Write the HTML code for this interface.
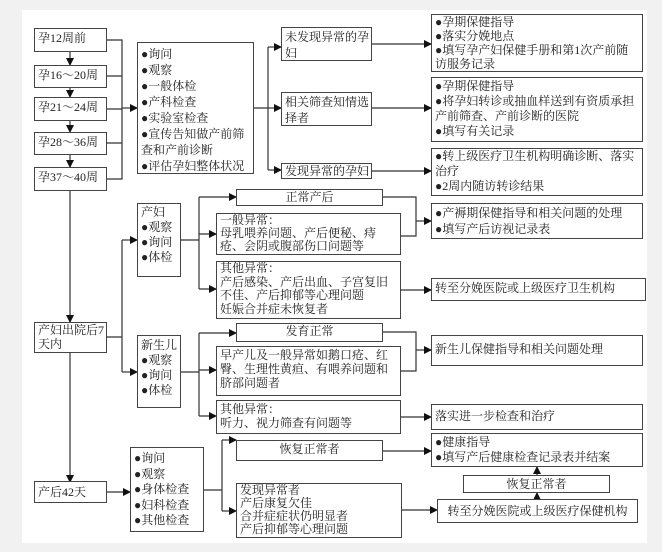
<!DOCTYPE html>
<html><head><meta charset="utf-8"><style>
body{margin:0;width:662px;height:552px;background:#f1f1f1;position:relative;overflow:hidden;font-family:"Liberation Serif","Noto Serif CJK SC",serif;color:#222}
#w{position:absolute;left:22px;top:10px;width:625px;height:533px;background:#fff}
.b{position:absolute;border:1px solid #444;box-sizing:border-box;font-size:12px;line-height:16px;padding:1px 3px;background:#fff;white-space:nowrap;overflow:hidden}
.c{text-align:center}
svg{position:absolute;left:0;top:0}
</style></head><body>
<div id="w"></div>
<svg width="662" height="552">
<defs><marker id="a" markerWidth="8" markerHeight="8" refX="7" refY="4" orient="auto" markerUnits="userSpaceOnUse"><path d="M0,0 L8,4 L0,8z" fill="#111"/></marker></defs>
<g stroke="#333" stroke-width="1.2" fill="none">
<path d="M70,52V65" marker-end="url(#a)"/><path d="M70,88V97" marker-end="url(#a)"/><path d="M70,121V132" marker-end="url(#a)"/><path d="M70,155V167" marker-end="url(#a)"/>
<path d="M107,40H122V179H107M107,76H122M107,143H122M107,109H122"/>
<path d="M122,108H137" marker-end="url(#a)"/>
<path d="M254,108H268M268,47V170"/>
<path d="M268,47H281" marker-end="url(#a)"/><path d="M268,108H281" marker-end="url(#a)"/><path d="M268,170H281" marker-end="url(#a)"/>
<path d="M372,44H431" marker-end="url(#a)"/><path d="M372,108H431" marker-end="url(#a)"/><path d="M372,171H431" marker-end="url(#a)"/>
<path d="M70,191V322" marker-end="url(#a)"/><path d="M70,353V482" marker-end="url(#a)"/>
<path d="M107,337H122M122,240V372"/>
<path d="M122,240H137" marker-end="url(#a)"/><path d="M122,372H137" marker-end="url(#a)"/>
<path d="M181,240H199M199,197V289"/>
<path d="M199,197H236" marker-end="url(#a)"/><path d="M199,234H216" marker-end="url(#a)"/><path d="M199,289H216" marker-end="url(#a)"/>
<path d="M383,197H416V236H401"/><path d="M416,221H431" marker-end="url(#a)"/>
<path d="M401,290H431" marker-end="url(#a)"/>
<path d="M181,372H199M199,333V416"/>
<path d="M199,333H236" marker-end="url(#a)"/><path d="M199,370H216" marker-end="url(#a)"/><path d="M199,416H216" marker-end="url(#a)"/>
<path d="M383,332H416V371H401"/><path d="M416,350H431" marker-end="url(#a)"/>
<path d="M401,417H431" marker-end="url(#a)"/>
<path d="M107,492H130" marker-end="url(#a)"/>
<path d="M204,490H222M222,440V511"/>
<path d="M222,440H236" marker-end="url(#a)"/><path d="M222,511H236" marker-end="url(#a)"/>
<path d="M383,451H431" marker-end="url(#a)"/>
<path d="M402,510H437" marker-end="url(#a)"/>
<path d="M537,499V493" marker-end="url(#a)"/><path d="M537,475V467" marker-end="url(#a)"/>
</g></svg>
<div class="b" style="left:34px;top:28px;width:73px;height:24px">孕12周前</div>
<div class="b" style="left:34px;top:65px;width:73px;height:23px">孕16～20周</div>
<div class="b" style="left:34px;top:97px;width:73px;height:24px">孕21～24周</div>
<div class="b" style="left:34px;top:132px;width:73px;height:23px">孕28～36周</div>
<div class="b" style="left:34px;top:167px;width:73px;height:24px">孕37～40周</div>
<div class="b" style="left:137px;top:42px;width:117px;height:132px;padding-top:3px">●询问<br>●观察<br>●一般体检<br>●产科检查<br>●实验室检查<br>●宣传告知做产前筛<br>查和产前诊断<br>●评估孕妇整体状况</div>
<div class="b" style="left:281px;top:27px;width:91px;height:34px">未发现异常的孕<br>妇</div>
<div class="b" style="left:281px;top:92px;width:91px;height:34px">相关筛查知情选<br>择者</div>
<div class="b" style="left:281px;top:163px;width:91px;height:16px;line-height:14px;padding-top:0">发现异常的孕妇</div>
<div class="b" style="left:431px;top:14px;width:212px;height:58px;line-height:14px;padding-top:0">●孕期保健指导<br>●落实分娩地点<br>●填写孕产妇保健手册和第1次产前随<br>访服务记录</div>
<div class="b" style="left:431px;top:77px;width:212px;height:65px;line-height:15px;padding-top:1px">●孕期保健指导<br>●将孕妇转诊或抽血样送到有资质承担<br>产前筛查、产前诊断的医院<br>●填写有关记录</div>
<div class="b" style="left:431px;top:148px;width:212px;height:48px;line-height:15px;padding-top:0">●转上级医疗卫生机构明确诊断、落实<br>治疗<br>●2周内随访转诊结果</div>
<div class="b" style="left:431px;top:203px;width:212px;height:36px">●产褥期保健指导和相关问题的处理<br>●填写产后访视记录表</div>
<div class="b c" style="left:236px;top:189px;width:147px;height:17px;line-height:14px;padding-top:0">正常产后</div>
<div class="b" style="left:216px;top:213px;width:185px;height:42px;line-height:13px;padding-top:0">一般异常：<br>母乳喂养问题、产后便秘、痔<br>疮、会阴或腹部伤口问题等</div>
<div class="b" style="left:216px;top:261px;width:185px;height:58px;line-height:13.5px;padding-top:0">其他异常：<br>产后感染、产后出血、子宫复旧<br>不佳、产后抑郁等心理问题<br>妊娠合并症未恢复者</div>
<div class="b" style="left:431px;top:278px;width:215px;height:23px">转至分娩医院或上级医疗卫生机构</div>
<div class="b" style="left:137px;top:203px;width:44px;height:74px;line-height:15px">产妇<br>●观察<br>●询问<br>●体检</div>
<div class="b" style="left:34px;top:322px;width:73px;height:31px;line-height:14px;padding-top:0">产妇出院后7<br>天内</div>
<div class="b" style="left:137px;top:335px;width:44px;height:73px;line-height:15px;padding-top:2px">新生儿<br>●观察<br>●询问<br>●体检</div>
<div class="b c" style="left:236px;top:323px;width:147px;height:19px;line-height:15px;padding-top:0">发育正常</div>
<div class="b" style="left:216px;top:346px;width:185px;height:50px;line-height:14px;padding-top:1px">早产儿及一般异常如鹅口疮、红<br>臀、生理性黄疸、有喂养问题和<br>脐部问题者</div>
<div class="b" style="left:216px;top:400px;width:185px;height:34px;line-height:14px;padding-top:1px">其他异常：<br>听力、视力筛查有问题等</div>
<div class="b" style="left:431px;top:335px;width:212px;height:31px;line-height:27px;padding-top:0">新生儿保健指导和相关问题处理</div>
<div class="b" style="left:431px;top:404px;width:212px;height:26px;line-height:22px;padding-top:0">落实进一步检查和治疗</div>
<div class="b" style="left:34px;top:481px;width:73px;height:22px;line-height:18px">产后42天</div>
<div class="b" style="left:130px;top:447px;width:74px;height:85px;line-height:15.5px;padding-top:3px">●询问<br>●观察<br>●身体检查<br>●妇科检查<br>●其他检查</div>
<div class="b c" style="left:236px;top:440px;width:147px;height:21px;line-height:17px;padding-top:0">恢复正常者</div>
<div class="b" style="left:236px;top:483px;width:166px;height:55px;line-height:13px;padding-top:0">发现异常者<br>产后康复欠佳<br>合并症症状仍明显者<br>产后抑郁等心理问题</div>
<div class="b" style="left:431px;top:433px;width:212px;height:34px;line-height:15px;padding-top:1px">●健康指导<br>●填写产后健康检查记录表并结案</div>
<div class="b c" style="left:463px;top:475px;width:147px;height:18px;line-height:14px;padding-top:1px">恢复正常者</div>
<div class="b c" style="left:437px;top:499px;width:201px;height:24px;line-height:20px">转至分娩医院或上级医疗保健机构</div>
</body></html>
